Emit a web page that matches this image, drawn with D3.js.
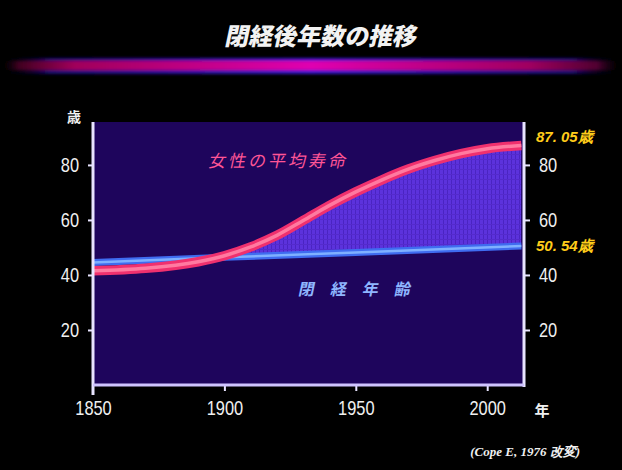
<!DOCTYPE html>
<html>
<head>
<meta charset="utf-8">
<script src="https://cdn.jsdelivr.net/npm/d3@7/dist/d3.min.js"></script>
<style>
  html, body { margin: 0; padding: 0; background: #000; }
  svg { display: block; }
</style>
</head>
<body>
<svg id="chart" width="622" height="470"></svg>
<script>
// Women's life expectancy and age at menopause, 1850 to present
const years      = [1850, 1870, 1890, 1900, 1910, 1920, 1930, 1940, 1950, 1960, 1970, 1980, 1990, 2000, 2013];
const lifeExp    = [41.5, 42.4, 44.8, 47.0, 50.2, 54.4, 59.8, 65.3, 70.2, 74.6, 78.5, 81.6, 84.1, 85.9, 87.05];
const menoYears  = [1850, 1900, 1950, 2013];
const menoAge    = [44.5, 46.4, 48.2, 50.54];
const yTicks     = [20, 40, 60, 80];
const xTicks     = [1850, 1900, 1950, 2000];
const endLabels  = ["87. 05歳", "50. 54歳"];

const svg = d3.select("#chart");
const W = 622, H = 470;
const plot = { left: 93, right: 524, top: 122, bottom: 385 };

const x = d3.scaleLinear().domain([1850, 2014]).range([plot.left, plot.right]);
const y = d3.scaleLinear().domain([0, 95.6]).range([plot.bottom, plot.top]);

const lifeData = years.map((yr, i) => ({ yr, v: lifeExp[i] }));
const menoData = menoYears.map((yr, i) => ({ yr, v: menoAge[i] }));
const menoAt = d3.scaleLinear().domain(menoYears).range(menoAge);

const defs = svg.append("defs");

// title glow bar gradients
const gH = defs.append("linearGradient").attr("id", "barMag").attr("x1", 0).attr("x2", 1);
[[0, "#000", 0], [0.03, "#400020", 1], [0.12, "#a0005a", 1], [0.5, "#e000b0", 1], [0.85, "#a00060", 1], [0.96, "#500030", 1], [1, "#000", 0]]
  .forEach(([o, c, a]) => gH.append("stop").attr("offset", o).attr("stop-color", c).attr("stop-opacity", a));
const gB = defs.append("linearGradient").attr("id", "barBlue").attr("x1", 0).attr("x2", 1);
[[0, "#000", 0], [0.08, "#1a0870", 1], [0.5, "#3a18d0", 1], [0.92, "#1a0870", 1], [1, "#000", 0]]
  .forEach(([o, c, a]) => gB.append("stop").attr("offset", o).attr("stop-color", c).attr("stop-opacity", a));
defs.append("filter").attr("id", "soft").attr("x", "-5%").attr("y", "-100%").attr("width", "110%").attr("height", "300%")
  .append("feGaussianBlur").attr("stdDeviation", 1.6);

// grid pattern for the shaded gap between curves
const pat = defs.append("pattern").attr("id", "grid").attr("patternUnits", "userSpaceOnUse")
  .attr("width", 4).attr("height", 5);
pat.append("rect").attr("width", 4).attr("height", 5).attr("fill", "#5c32dc");
pat.append("rect").attr("x", 3).attr("width", 1).attr("height", 5).attr("fill", "#4a24c2");
pat.append("rect").attr("y", 4).attr("width", 4).attr("height", 1).attr("fill", "#542acc");

// title
svg.append("text").attr("x", 320).attr("y", 45).attr("text-anchor", "middle")
  .attr("font-family", "'Noto Sans CJK JP', sans-serif").attr("font-weight", 900)
  .attr("font-size", 24).attr("fill", "#f2f2f2")
  .attr("transform", "skewX(-12) translate(9.5,0)")
  .text("閉経後年数の推移");

const bar = svg.append("g").attr("filter", "url(#soft)");
bar.append("rect").attr("x", 0).attr("y", 58).attr("width", W).attr("height", 16).attr("fill", "url(#barBlue)");
bar.append("rect").attr("x", 0).attr("y", 61).attr("width", W).attr("height", 9).attr("fill", "url(#barMag)");

// plot background
svg.append("rect").attr("x", plot.left).attr("y", plot.top)
  .attr("width", plot.right - plot.left).attr("height", plot.bottom - plot.top)
  .attr("fill", "#1e055c");

// shaded region where life expectancy exceeds menopause age
const curve = d3.curveMonotoneX;
defs.append("clipPath").attr("id", "aboveMeno").append("path")
  .attr("d", d3.area().x(d => x(d.yr)).y0(d => y(d.v)).y1(plot.top - 5).curve(d3.curveLinear)(menoData));
const gapArea = d3.area().x(d => x(d.yr)).y0(d => y(menoAt(d.yr))).y1(d => y(d.v)).curve(curve);
svg.append("path").attr("d", gapArea(lifeData)).attr("fill", "url(#grid)").attr("clip-path", "url(#aboveMeno)");

// menopause age line
const menoLine = d3.line().x(d => x(d.yr)).y(d => y(d.v));
svg.append("path").attr("d", menoLine(menoData)).attr("fill", "none").attr("stroke", "#3f6cf0").attr("stroke-width", 7);
svg.append("path").attr("d", menoLine(menoData)).attr("fill", "none").attr("stroke", "#7fb0ff").attr("stroke-width", 2.5);

// life expectancy line
const lifeLine = d3.line().x(d => x(d.yr)).y(d => y(d.v)).curve(curve);
svg.append("path").attr("d", lifeLine(lifeData)).attr("fill", "none").attr("stroke", "#f0306e").attr("stroke-width", 9.5);
svg.append("path").attr("d", lifeLine(lifeData)).attr("fill", "none").attr("stroke", "#ff7aa0").attr("stroke-width", 3.5);

// axes
const tickFont = "'Liberation Sans', Arial, sans-serif";
const axisColor = "#e8e4ff";
const squeeze = 0.82;   // condensed look for the tick numerals

const left = svg.append("g").attr("transform", `translate(${plot.left},0)`)
  .call(d3.axisLeft(y).tickValues(yTicks).tickSize(5).tickPadding(9));
left.select(".domain").remove();
left.append("line").attr("x1", 0).attr("x2", 0).attr("y1", plot.top).attr("y2", plot.bottom + 10)
  .attr("stroke", axisColor).attr("stroke-width", 3);

const right = svg.append("g").attr("transform", `translate(${plot.right},0)`)
  .call(d3.axisRight(y).tickValues(yTicks).tickSize(6).tickPadding(9));
right.select(".domain").remove();
right.append("line").attr("x1", 0).attr("x2", 0).attr("y1", plot.top).attr("y2", plot.bottom + 2)
  .attr("stroke", axisColor).attr("stroke-width", 3);

const bottom = svg.append("g").attr("transform", `translate(0,${plot.bottom})`)
  .call(d3.axisBottom(x).tickValues(xTicks).tickFormat(d3.format("d")).tickSize(6).tickPadding(10));
bottom.select(".domain").remove();
bottom.append("line").attr("x1", plot.left).attr("x2", plot.right).attr("y1", 0).attr("y2", 0)
  .attr("stroke", "#cfc4ff").attr("stroke-width", 3);

[left, right, bottom].forEach(g => {
  g.selectAll(".tick line").attr("stroke", axisColor).attr("stroke-width", 2);
  g.selectAll(".tick text").each(function() {
    const t = d3.select(this);
    const tx = +t.attr("x") || 0;
    t.attr("x", tx / squeeze).attr("transform", `scale(${squeeze},1)`);
  }).attr("fill", "#f0f0f0").attr("font-family", tickFont).attr("font-size", 20);
});
bottom.selectAll(".tick").filter(d => d === 1850).select("line").remove();

// unit labels
svg.append("text").attr("x", 74).attr("y", 122).attr("text-anchor", "middle")
  .attr("font-family", "'Noto Sans CJK JP', sans-serif").attr("font-weight", 700).attr("font-size", 14).attr("fill", "#f0f0f0").text("歳");
svg.append("text").attr("x", 542).attr("y", 416).attr("text-anchor", "middle")
  .attr("font-family", "'Noto Sans CJK JP', sans-serif").attr("font-weight", 700).attr("font-size", 15).attr("fill", "#f0f0f0").text("年");

// end values
const endVals = [lifeExp[lifeExp.length - 1], menoAge[menoAge.length - 1]];
const endOffsets = [-4, 5];
endVals.forEach((v, i) => {
  svg.append("text").attr("x", 536).attr("y", y(v) + endOffsets[i])
    .attr("font-family", "'Liberation Sans', Arial, sans-serif").attr("font-style", "italic").attr("font-weight", 700)
    .attr("font-size", 15).attr("fill", "#ffcc1a").text(endLabels[i]);
});

// series labels
svg.append("text").attr("x", 208).attr("y", 167)
  .attr("font-family", "'Noto Sans CJK JP', sans-serif").attr("font-size", 17).attr("letter-spacing", 3)
  .attr("fill", "#ff5596").attr("transform", "skewX(-12) translate(35.5,0)").text("女性の平均寿命");
svg.append("text").attr("x", 298).attr("y", 295)
  .attr("font-family", "'Noto Sans CJK JP', sans-serif").attr("font-weight", 700).attr("font-size", 16)
  .attr("letter-spacing", 16)
  .attr("fill", "#8fb6ff").attr("transform", "skewX(-12) translate(62.5,0)").text("閉経年齢");

// source note
svg.append("text").attr("x", 580).attr("y", 456).attr("text-anchor", "end")
  .attr("font-family", "'Liberation Serif', 'Times New Roman', serif").attr("font-style", "italic").attr("font-weight", 700)
  .attr("font-size", 13).attr("fill", "#f0f0f0").text("(Cope E, 1976 改変)");
</script>
</body>
</html>
